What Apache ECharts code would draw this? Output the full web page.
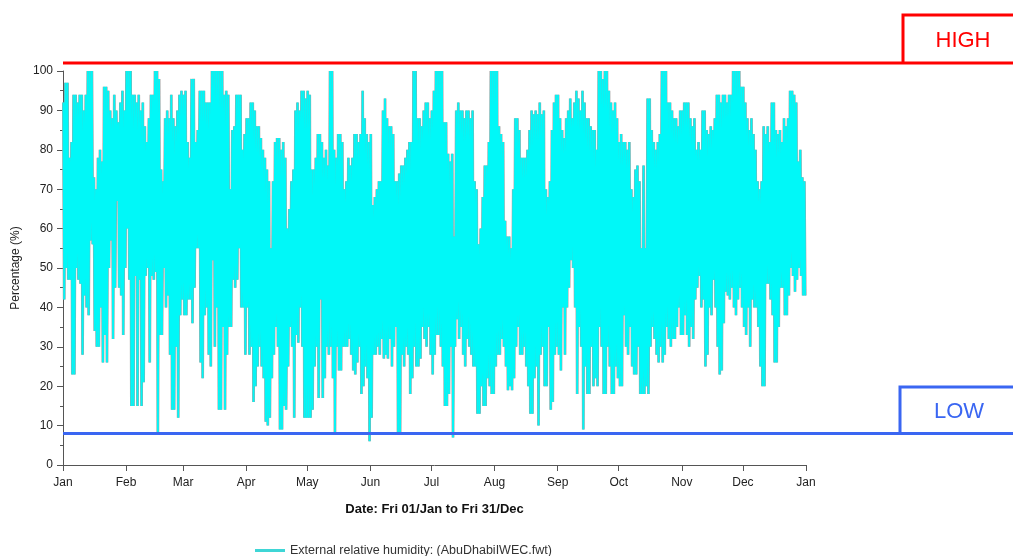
<!DOCTYPE html>
<html>
<head>
<meta charset="utf-8">
<script src="https://cdn.jsdelivr.net/npm/echarts@6/dist/echarts.min.js"></script>
<style>html,body{margin:0;padding:0;background:#fff;}#c{width:1013px;height:556px;}</style>
</head>
<body>
<div id="c"></div>
<script>
// Month tick labels and their day-of-year positions
const monthLabels = ['Jan','Feb','Mar','Apr','May','Jun','Jul','Aug','Sep','Oct','Nov','Dec','Jan'];
const monthStartDays = [0,31,59,90,120,151,181,212,243,273,304,334,365];
const yTicks = [0,10,20,30,40,50,60,70,80,90,100];

// Daily maximum (night) relative humidity, %
const dailyHigh = [
 92,97,97,78,82,94,94,92,94,94,90,94,100,100,100,73,70,78,80,77,96,96,95,90,88,94,90,87,92,95,90,
 100,100,100,94,94,92,94,90,92,86,82,88,94,94,100,100,98,75,72,88,90,88,94,88,86,90,94,95,
 94,95,82,78,98,98,82,85,95,95,95,92,92,92,100,100,100,100,100,100,94,95,94,70,85,86,94,94,94,80,84,
 88,88,92,92,90,86,86,83,80,78,75,72,55,72,82,83,83,80,82,78,60,65,72,75,90,92,90,95,95,93,
 95,94,75,75,78,84,84,82,78,80,76,100,100,80,78,84,84,82,70,72,78,76,78,84,84,82,84,95,88,84,82,
 84,66,68,70,72,72,90,93,88,86,86,84,72,72,74,76,76,78,80,82,82,100,100,88,88,86,90,92,92,88,
 90,95,100,100,100,100,87,87,79,77,79,58,90,92,90,90,88,90,90,88,90,72,70,56,60,68,76,76,82,100,100,
 100,100,86,84,82,62,58,58,55,70,88,88,85,78,78,78,80,85,90,89,90,89,92,89,90,70,68,72,85,92,94,
 94,88,85,83,88,90,93,88,92,95,93,90,95,92,88,88,86,85,85,80,100,100,98,100,100,95,92,90,92,88,
 82,84,82,82,80,82,70,68,75,76,72,55,76,55,93,93,85,82,80,82,84,100,100,100,92,92,90,88,88,86,90,
 90,92,92,92,88,86,88,80,82,80,90,90,85,84,86,85,88,94,94,92,94,94,92,94,94,100,100,100,100,96,
 96,92,88,85,88,84,80,72,70,72,86,84,86,82,92,92,85,84,85,82,88,86,88,95,95,94,92,77,80,73,72
];

// Daily minimum (afternoon) relative humidity, %
const dailyLow = [
 42,50,47,47,23,23,50,47,46,28,43,40,38,57,56,34,30,30,40,26,33,26,50,57,32,45,67,45,43,33,50,
 60,47,15,15,48,15,47,15,21,48,50,26,48,47,49,8,33,33,50,40,43,28,14,14,30,12,38,42,
 38,38,42,42,36,45,55,55,26,22,38,40,28,25,52,30,40,14,14,35,14,28,35,35,47,45,47,55,40,40,28,
 40,28,30,16,20,25,30,25,22,11,10,12,22,28,35,30,9,9,15,14,25,35,30,12,33,31,40,30,12,12,
 12,12,14,25,30,17,42,17,22,30,28,30,22,8,30,24,24,30,30,30,32,28,24,23,26,30,18,20,25,22,6,
 12,28,28,30,28,32,27,28,27,32,25,30,35,8,8,28,25,30,28,18,22,30,25,25,27,35,32,30,35,28,
 23,28,33,33,30,25,15,15,18,30,7,30,37,32,35,28,25,32,30,28,25,25,13,13,20,15,15,22,20,18,18,
 25,28,28,32,30,25,19,20,19,22,30,35,28,28,30,25,20,13,13,22,25,10,28,30,20,20,35,14,16,28,30,
 28,24,40,28,40,45,52,50,40,18,35,30,9,25,18,18,30,20,22,20,35,30,18,18,30,25,18,18,25,22,
 20,20,38,30,28,35,25,23,23,30,18,18,18,20,18,30,35,32,28,26,30,26,28,35,32,30,32,32,35,40,33,
 33,38,33,30,35,32,42,45,48,40,42,25,28,40,38,47,40,30,23,24,36,44,43,42,45,40,38,42,45,40,
 35,33,40,30,42,40,40,35,25,20,20,46,46,42,38,26,26,35,45,45,38,38,43,50,48,44,47,50,48,43,43
];

// Annotation thresholds (%)
const highThreshold = 102;
const lowThreshold = 8;

const seriesName = 'External relative humidity: (AbuDhabiIWEC.fwt)';

// Each day: night maximum then afternoon minimum
const points = [];
for (let i = 0; i < dailyHigh.length; i++) {
  points.push([i + 0.2, dailyHigh[i]]);
  points.push([i + 0.6, dailyLow[i]]);
}

const FONT = 'Liberation Sans';
const chart = echarts.init(document.getElementById('c'), null, {renderer: 'canvas'});

chart.setOption({
  animation: false,
  backgroundColor: '#ffffff',
  textStyle: {fontFamily: FONT},
  grid: {left: 63, right: 207, top: 71, bottom: 91, containLabel: false},
  legend: {
    data: [{name: seriesName, icon: 'rect'}],
    left: 250, top: 539,
    itemWidth: 30, itemHeight: 3, itemGap: 4,
    textStyle: {fontFamily: FONT, fontSize: 12.5, color: '#333'},
    itemStyle: {color: '#3fd6d6'}
  },
  xAxis: {
    type: 'value', min: 0, max: 365,
    name: 'Date: Fri 01/Jan to Fri 31/Dec',
    nameLocation: 'middle', nameGap: 38,
    nameTextStyle: {fontFamily: FONT, fontSize: 13, fontWeight: 'bold', color: '#111'},
    axisLine: {show: true, onZero: false, lineStyle: {color: '#555', width: 1}},
    axisTick: {show: true, customValues: monthStartDays, length: 6, lineStyle: {color: '#555'}},
    axisLabel: {
      customValues: monthStartDays, margin: 12,
      fontFamily: FONT, fontSize: 12, color: '#222',
      formatter: function (v) { const k = monthStartDays.indexOf(Math.round(v)); return k >= 0 ? monthLabels[k] : ''; }
    },
    splitLine: {show: false}
  },
  yAxis: {
    type: 'value', min: 0, max: 100, interval: 10,
    name: 'Percentage (%)', nameLocation: 'middle', nameGap: 40,
    nameTextStyle: {fontFamily: FONT, fontSize: 12, color: '#222'},
    axisLine: {show: true, lineStyle: {color: '#555', width: 1}},
    axisTick: {show: true, length: 6, lineStyle: {color: '#555'}},
    minorTick: {show: true, splitNumber: 2, length: 3, lineStyle: {color: '#555'}},
    axisLabel: {
      customValues: yTicks, margin: 10,
      fontFamily: FONT, fontSize: 12, color: '#222'
    },
    splitLine: {show: false}
  },
  series: [
    {
      name: 'outline', type: 'line', data: points, showSymbol: false, symbol: 'none',
      lineStyle: {color: '#a0a0a0', width: 2.8}, z: 2, silent: true, legendHoverLink: false
    },
    {
      name: seriesName, type: 'line', data: points, showSymbol: false, symbol: 'none',
      lineStyle: {color: '#00f8f8', width: 1.8}, itemStyle: {color: '#3fd6d6'}, z: 3
    }
  ]
});

// Annotation lines and boxes, placed from the y scale
const xStart = chart.convertToPixel({xAxisIndex: 0}, 0);
const yHigh = chart.convertToPixel({yAxisIndex: 0}, highThreshold);
const yLow = chart.convertToPixel({yAxisIndex: 0}, lowThreshold);
const RED = '#ff0000';
const BLUE = '#3a66f2';
const hiBoxX = 903, hiBoxTop = 15;
const loBoxX = 900, loBoxTop = 387;

chart.setOption({
  graphic: [
    {type: 'polyline', z: 100, shape: {points: [[xStart, yHigh], [1020, yHigh]]}, style: {stroke: RED, lineWidth: 3, fill: null}},
    {type: 'polyline', z: 100, shape: {points: [[hiBoxX, yHigh], [hiBoxX, hiBoxTop], [1020, hiBoxTop]]}, style: {stroke: RED, lineWidth: 3, fill: null}},
    {type: 'text', z: 100, x: hiBoxX + 60, y: (hiBoxTop + yHigh) / 2 + 2, style: {text: 'HIGH', fill: RED, font: '22px "Liberation Sans"', align: 'center', verticalAlign: 'middle'}},
    {type: 'polyline', z: 100, shape: {points: [[xStart, yLow], [1020, yLow]]}, style: {stroke: BLUE, lineWidth: 3, fill: null}},
    {type: 'polyline', z: 100, shape: {points: [[loBoxX, yLow], [loBoxX, loBoxTop], [1020, loBoxTop]]}, style: {stroke: BLUE, lineWidth: 3, fill: null}},
    {type: 'text', z: 100, x: loBoxX + 59, y: (loBoxTop + yLow) / 2 + 2, style: {text: 'LOW', fill: BLUE, font: '22px "Liberation Sans"', align: 'center', verticalAlign: 'middle'}}
  ]
});
</script>
</body>
</html>
